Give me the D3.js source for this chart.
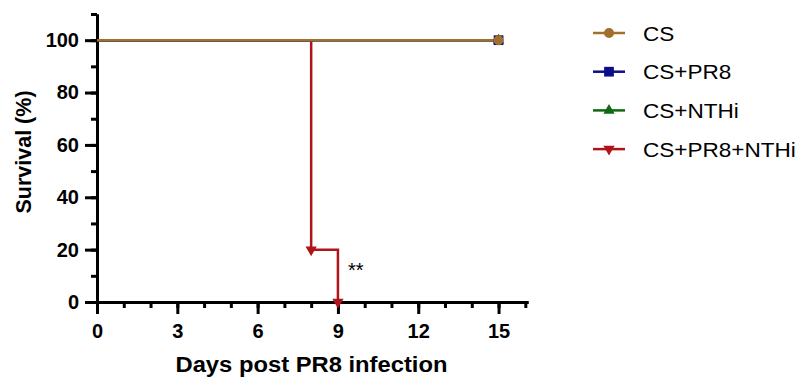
<!DOCTYPE html>
<html>
<head>
<meta charset="utf-8">
<script src="https://cdn.jsdelivr.net/npm/d3@7"></script>
<style>
  body { margin: 0; background: #fff; }
  text { font-family: Arial, "Liberation Sans", sans-serif; }
</style>
</head>
<body>
<script>
// series names and colours
var seriesNames = ["CS", "CS+PR8", "CS+NTHi", "CS+PR8+NTHi"];
var seriesColors = ["#A0702C", "#0D0D8A", "#0E6B12", "#B0141A"];
var seriesShapes = ["circle", "square", "triangle", "triangleDown"];

// survival steps: [day, percent]
var csData = [[0, 100], [15, 100]];
var csPr8Data = [[0, 100], [15, 100]];
var csNthiData = [[0, 100], [15, 100]];
var csPr8NthiData = [[0, 100], [8, 100], [8, 20], [9, 20], [9, 0]];

// points that get a symbol
var csMarks = [[15, 100]];
var csPr8Marks = [[15, 100]];
var csNthiMarks = [[15, 100]];
var csPr8NthiMarks = [[8, 20], [9, 0]];

var xTicks = [0, 3, 6, 9, 12, 15];
var yTicks = [0, 20, 40, 60, 80, 100];

var w = 802, h = 378;
var svg = d3.select("body").append("svg")
    .attr("width", w)
    .attr("height", h);

var x = d3.scaleLinear().domain([0, 16.1]).range([97, 528]);
var y = d3.scaleLinear().domain([0, 110]).range([302, 14]);

// stretch text a little wider, the original font runs wide
function widen(sel, k) {
    sel.each(function() {
        var len = this.getComputedTextLength();
        d3.select(this).attr("textLength", len * k).attr("lengthAdjust", "spacingAndGlyphs");
    });
}

// axes
svg.append("g")
    .attr("transform", "translate(0," + y(0) + ")")
    .call(d3.axisBottom(x).tickValues(xTicks).tickSize(12).tickPadding(9.5).tickSizeOuter(0));
svg.append("g")
    .attr("transform", "translate(0," + y(0) + ")")
    .call(d3.axisBottom(x).tickValues(d3.range(0, 17)).tickSize(6).tickFormat("").tickSizeOuter(0));

svg.append("g")
    .attr("transform", "translate(" + x(0) + ",0)")
    .call(d3.axisLeft(y).tickValues(yTicks).tickSize(12).tickPadding(6).tickSizeOuter(0));
svg.append("g")
    .attr("transform", "translate(" + x(0) + ",0)")
    .call(d3.axisLeft(y).tickValues(d3.range(0, 111, 10)).tickSize(6).tickFormat("").tickSizeOuter(0));

svg.selectAll(".domain").attr("stroke", "#000").attr("stroke-width", 3);
svg.selectAll(".tick line").attr("stroke", "#000").attr("stroke-width", 3);
svg.selectAll(".tick text")
    .attr("fill", "#000")
    .style("font-size", "20px")
    .style("font-weight", "bold");

// axis titles
svg.append("text")
    .attr("x", 311.5)
    .attr("y", 372)
    .attr("text-anchor", "middle")
    .style("font-size", "22px")
    .style("font-weight", "bold")
    .text("Days post PR8 infection")
    .call(widen, 1.08);

svg.append("text")
    .attr("transform", "translate(30.5,152) rotate(-90)")
    .attr("text-anchor", "middle")
    .style("font-size", "21.5px")
    .style("font-weight", "bold")
    .text("Survival (%)");

// lines
var line = d3.line()
    .x(function(d) { return x(d[0]); })
    .y(function(d) { return y(d[1]); });

var allData = [csData, csPr8Data, csNthiData, csPr8NthiData];
var allMarks = [csMarks, csPr8Marks, csNthiMarks, csPr8NthiMarks];

function symbolPath(shape) {
    if (shape === "circle") return d3.symbol(d3.symbolCircle, 78)();
    if (shape === "square") return d3.symbol(d3.symbolSquare, 95)();
    return d3.symbol(d3.symbolTriangle, 55)();
}

function symbolTransform(shape, px, py) {
    var t = "translate(" + px + "," + py + ")";
    return shape === "triangleDown" ? t + " rotate(180)" : t;
}

// draw red first, then green, blue, brown on top
var order = [3, 2, 1, 0];
order.forEach(function(i) {
    svg.append("path")
        .datum(allData[i])
        .attr("fill", "none")
        .attr("stroke", seriesColors[i])
        .attr("stroke-width", 2.5)
        .attr("d", line);
});
order.forEach(function(i) {
    svg.selectAll(".m" + i)
        .data(allMarks[i])
        .enter()
        .append("path")
        .attr("class", "m" + i)
        .attr("d", symbolPath(seriesShapes[i]))
        .attr("fill", seriesColors[i])
        .attr("transform", function(d) {
            return symbolTransform(seriesShapes[i], x(d[0]), y(d[1]));
        });
});

// significance
svg.append("text")
    .attr("x", 348)
    .attr("y", 277)
    .style("font-size", "20px")
    .text("**");

// legend
var legend = svg.selectAll(".legend")
    .data(seriesNames)
    .enter()
    .append("g")
    .attr("class", "legend")
    .attr("transform", function(d, i) { return "translate(0," + (33 + i * 38.7) + ")"; });

legend.append("line")
    .attr("x1", 593).attr("x2", 625)
    .attr("stroke", function(d, i) { return seriesColors[i]; })
    .attr("stroke-width", 2.5);

legend.append("path")
    .attr("d", function(d, i) { return symbolPath(seriesShapes[i]); })
    .attr("fill", function(d, i) { return seriesColors[i]; })
    .attr("transform", function(d, i) { return symbolTransform(seriesShapes[i], 609, 0); });

legend.append("text")
    .attr("x", 643)
    .attr("y", 7.5)
    .style("font-size", "20.5px")
    .text(function(d) { return d; })
    .call(widen, 1.1);
</script>
</body>
</html>
